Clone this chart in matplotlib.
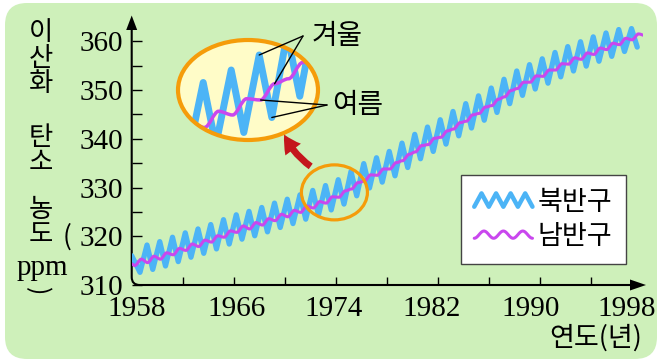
import numpy as np
import matplotlib
matplotlib.use("Agg")
import matplotlib.pyplot as plt
from matplotlib.patches import FancyBboxPatch, Ellipse, FancyArrowPatch, PathPatch, Polygon, ConnectionPatch
from matplotlib.path import Path
from matplotlib.lines import Line2D
from matplotlib.legend_handler import HandlerBase
from matplotlib.ticker import FixedLocator

plt.rcParams['font.family'] = ['Noto Sans CJK KR', 'DejaVu Sans']
SERIF = 'Liberation Serif'

# ---- 데이터 (그림에서 읽은 값, ppm) ----
# 북반구: 겨울 최고값(그해 +0.2년), 여름 최저값(그해 +0.65년)
nh_start = 316.0
nh_peak_years = list(range(1959, 1998))
nh_peaks = [318.2, 318.9, 319.8, 320.7, 321.5, 322.4, 323.4, 324.4, 325.1, 325.9,
            326.8, 327.6, 328.5, 329.4, 330.4, 331.6, 333.3, 334.9, 336.1, 337.4,
            339.1, 340.9, 342.4, 343.9, 345.6, 347.2, 348.8, 350.4, 352.2, 353.9,
            355.2, 356.4, 357.7, 358.9, 359.9, 360.9, 361.7, 362.4, 362.6]
nh_trough_years = list(range(1958, 1998))
nh_troughs = [312.6, 313.2, 313.9, 314.8, 315.7, 316.5, 317.4, 318.4, 319.4, 320.1,
              320.9, 321.8, 322.6, 323.5, 324.4, 325.4, 326.6, 328.3, 329.9, 331.1,
              332.4, 334.1, 335.9, 337.4, 338.9, 340.6, 342.2, 343.8, 345.4, 347.2,
              348.9, 350.2, 351.4, 352.7, 353.9, 354.9, 355.9, 356.9, 357.9, 358.8]
NH_PEAK_PHASE, NH_TROUGH_PHASE = 0.2, 0.65

# 남반구: 여름 최저값(그해 +0.25년), 겨울 최고값(그해 +0.75년)
sh_start = 314.3
sh_trough_years = list(range(1958, 1999))
sh_troughs = [314.0, 314.6, 315.3, 316.2, 317.1, 317.9, 318.8, 319.8, 320.8, 321.5,
              322.3, 323.2, 324.0, 324.9, 325.8, 326.8, 328.0, 329.7, 331.3, 332.5,
              333.8, 335.5, 337.3, 338.8, 340.3, 342.0, 343.6, 345.2, 346.8, 348.6,
              350.3, 351.6, 352.8, 354.1, 355.3, 356.3, 357.3, 358.3, 359.3, 360.3, 361.2]
sh_peak_years = list(range(1958, 1998))
sh_peaks = [315.3, 315.9, 316.6, 317.5, 318.4, 319.2, 320.1, 321.1, 322.1, 322.8,
            323.6, 324.5, 325.3, 326.2, 327.1, 328.1, 329.3, 331.0, 332.6, 333.8,
            335.1, 336.8, 338.6, 340.1, 341.6, 343.3, 344.9, 346.5, 348.1, 349.9,
            351.6, 352.9, 354.1, 355.4, 356.6, 357.6, 358.6, 359.6, 360.6, 361.5]
SH_TROUGH_PHASE, SH_PEAK_PHASE = 0.25, 0.75

year_labels = [1958, 1966, 1974, 1982, 1990, 1998]
year_ticks = list(range(1962, 1998, 4))
ppm_labels = [310, 320, 330, 340, 350, 360]
ppm_ticks = list(range(315, 365, 5))
series_names = ['북반구', '남반구']

BLUE = '#4cb4f6'
PURPLE = '#c947ee'
ORANGE = '#f59c0a'
GREEN = '#cef0ba'

# 시계열 만들기 (최고/최저를 번갈아)
nh_t, nh_v = [1958.0], [nh_start]
for i, y in enumerate(nh_trough_years):
    nh_t.append(y + NH_TROUGH_PHASE)
    nh_v.append(nh_troughs[i])
    if y + 1 in nh_peak_years:
        nh_t.append(y + 1 + NH_PEAK_PHASE)
        nh_v.append(nh_peaks[nh_peak_years.index(y + 1)])

sh_t, sh_v = [1958.0], [sh_start]
for i, y in enumerate(sh_trough_years):
    sh_t.append(y + SH_TROUGH_PHASE)
    sh_v.append(sh_troughs[i])
    if y in sh_peak_years:
        sh_t.append(y + SH_PEAK_PHASE)
        sh_v.append(sh_peaks[sh_peak_years.index(y)])


def smooth_path(ts, vs):
    # 극값에서 수평 접선을 갖는 베지어 곡선
    verts, codes = [(ts[0], vs[0])], [Path.MOVETO]
    for k in range(1, len(ts)):
        dx = (ts[k] - ts[k - 1]) / 3
        verts += [(ts[k - 1] + dx, vs[k - 1]), (ts[k] - dx, vs[k]), (ts[k], vs[k])]
        codes += [Path.CURVE4] * 3
    return Path(verts, codes)


# ---- 그림 ----
W, H = 663, 364
fig = plt.figure(figsize=(W / 100, H / 100), dpi=100)
fig.patch.set_facecolor('white')

bg = fig.add_axes([0, 0, 1, 1], zorder=0)
bg.set_axis_off()
bg.add_patch(FancyBboxPatch((5, 3), 652, 356, boxstyle='round,pad=0,rounding_size=22',
                            fc=GREEN, ec='none'))
# 흰 그래프 판 + 위/오른쪽 그림자
px0, py0, px1, py1 = 131, 13, 648, 290
gw, gh = px1 - px0, py1 - py0
xx, yy = np.meshgrid(np.arange(gw) + 0.5, np.arange(gh) + 0.5)
d = np.minimum(np.minimum(yy, gw - xx), (gh - yy) * 2.0)
s = np.clip(d / 11.0, 0, 1) ** 0.8
g = 0.42 + 0.58 * s
img = np.dstack([g, g, g])
panel = FancyBboxPatch((px0, py0), gw, gh, boxstyle='round,pad=0,rounding_size=10',
                       fc='none', ec='none')
bg.add_patch(panel)
im = bg.imshow(img, extent=(px0, px1, py1, py0), interpolation='bilinear', aspect='auto')
im.set_clip_path(panel)

# 축선 (둥근 모서리 + 화살표)
ax_x0, ax_y0 = 131.7, 285
axis_path = Path([(ax_x0, 28), (ax_x0, ax_y0 - 8), (ax_x0, ax_y0), (ax_x0 + 8, ax_y0), (632, ax_y0)],
                 [Path.MOVETO, Path.LINETO, Path.CURVE3, Path.CURVE3, Path.LINETO])
bg.add_patch(PathPatch(axis_path, fill=False, ec='black', lw=1.5))
bg.add_patch(Polygon([(ax_x0, 15.5), (ax_x0 - 5.5, 30), (ax_x0 + 5.5, 30)], fc='black', ec='none'))
bg.add_patch(Polygon([(646, ax_y0), (630, ax_y0 - 5.5), (630, ax_y0 + 5.5)], fc='black', ec='none'))
bg.set_xlim(0, W)
bg.set_ylim(H, 0)

# 본 그래프
ax = fig.add_axes([ax_x0 / W, (H - ax_y0) / H, (643 - ax_x0) / W, (ax_y0 - 17) / H], zorder=1)
ax.patch.set_alpha(0)
for sp in ax.spines.values():
    sp.set_visible(False)
ax.set_xlim(1958, 1958 + (643 - ax_x0) / 12.75)
ax.set_ylim(310, 310 + (ax_y0 - 17) / 4.875)

ax.plot(nh_t, nh_v, color=BLUE, lw=3.8, solid_joinstyle='round', solid_capstyle='round', zorder=2)
ax.add_patch(PathPatch(smooth_path(sh_t, sh_v), fill=False, ec=PURPLE, lw=2.2, zorder=3,
                       capstyle='round'))

label_x = [1958.4, 1966.2, 1973.8, 1981.5, 1989.3, 1996.8]
ax.xaxis.set_major_locator(FixedLocator(label_x))
ax.set_xticklabels([str(y) for y in year_labels], fontfamily=SERIF, fontsize=21)
ax.xaxis.set_minor_locator(FixedLocator(year_ticks))
ax.tick_params(axis='x', which='major', length=0, pad=8)
ax.tick_params(axis='x', which='minor', direction='in', length=6, width=1.0)
ax.yaxis.set_major_locator(FixedLocator(ppm_labels))
ax.set_yticklabels([str(v) for v in ppm_labels], fontfamily=SERIF, fontsize=21)
ax.yaxis.set_minor_locator(FixedLocator(ppm_ticks))
ax.tick_params(axis='y', which='both', direction='in', length=7, width=1.0, pad=6)

# 작은 주황 타원
ax.add_patch(Ellipse((1973.9, 329.0), 66 / 12.75, 55 / 4.875, fill=False, ec=ORANGE, lw=2.3, zorder=4))


# 범례
class WaveHandler(HandlerBase):
    def __init__(self, kind, cycles, amp):
        super().__init__()
        self.kind, self.cycles, self.amp = kind, cycles, amp

    def create_artists(self, legend, orig_handle, xdescent, ydescent, width, height, fontsize, trans):
        x0, yc = -xdescent, -ydescent + height / 2
        if self.kind == 'zigzag':
            xs = np.linspace(x0, x0 + width, 2 * self.cycles + 1)
            ys = yc + self.amp * np.where(np.arange(xs.size) % 2 == 0, -1, 1)
        else:
            u = np.linspace(0, 1, 80)
            xs = x0 + width * u
            ys = yc - self.amp * np.cos(2 * np.pi * self.cycles * u)
        line = Line2D(xs, ys, color=orig_handle.get_color(), lw=orig_handle.get_linewidth(),
                      solid_joinstyle='round', solid_capstyle='round')
        line.set_transform(trans)
        return [line]


h_nh = Line2D([], [], color=BLUE, lw=3.2)
h_sh = Line2D([], [], color=PURPLE, lw=2.2)
leg = ax.legend([h_nh, h_sh], series_names, loc='upper left',
                bbox_to_anchor=(460.7 / W, 1 - 175 / H), bbox_transform=fig.transFigure,
                borderaxespad=0, fontsize=19.5, handlelength=2.15, handletextpad=0.2,
                borderpad=0.5, labelspacing=0.28, fancybox=False, framealpha=1,
                edgecolor='#444444',
                handler_map={h_nh: WaveHandler('zigzag', 4, 4.8), h_sh: WaveHandler('wave', 3, 2.6)})
leg.get_frame().set_linewidth(1.0)

# 확대 그림 (큰 타원)
ecx, ecy, ew, eh = 248, 90, 140, 100
ax_in = fig.add_axes([(ecx - ew / 2) / W, (H - ecy - eh / 2) / H, ew / W, eh / H], zorder=2)
ax_in.set_axis_off()
in_cx, in_cy = 1973.8, 328.8
ax_in.set_xlim(in_cx - 2.5, in_cx + 2.5)
ax_in.set_ylim(in_cy - 4, in_cy + 4)
clip = Ellipse((0.5, 0.5), 1, 1, transform=ax_in.transAxes, fc='#fffcc8', ec='none', zorder=0)
ax_in.add_patch(clip)
l1, = ax_in.plot(nh_t, nh_v, color=BLUE, lw=5, solid_joinstyle='round', zorder=2)
l1.set_clip_path(clip)
p2 = PathPatch(smooth_path(sh_t, sh_v), fill=False, ec=PURPLE, lw=2.5, zorder=3)
ax_in.add_patch(p2)
p2.set_clip_path(clip)
ax_in.add_patch(Ellipse((0.5, 0.5), 1, 1, transform=ax_in.transAxes, fill=False, ec=ORANGE,
                        lw=3, zorder=4, clip_on=False))

# 주석 레이어
over = fig.add_axes([0, 0, 1, 1], zorder=5)
over.set_axis_off()
over.patch.set_alpha(0)
over.set_xlim(0, W)
over.set_ylim(H, 0)

over.add_patch(FancyArrowPatch((313, 168), (283, 132), arrowstyle='simple,head_length=0.9,head_width=1.0,tail_width=0.35',
                               mutation_scale=14, connectionstyle='arc3,rad=-0.15',
                               fc='#c4161c', ec='none'))

over.text(337, 36, '겨울', fontsize=20, ha='center', va='center')
over.text(358, 105, '여름', fontsize=20, ha='center', va='center')
targets_w = [(1974 + NH_PEAK_PHASE, nh_peaks[nh_peak_years.index(1974)]),
             (1974 + SH_PEAK_PHASE, sh_peaks[sh_peak_years.index(1974)])]
targets_s = [(1974 + SH_TROUGH_PHASE, sh_troughs[sh_trough_years.index(1974)]),
             (1974 + NH_TROUGH_PHASE, nh_troughs[nh_trough_years.index(1974)])]
for xy in targets_w:
    over.add_artist(ConnectionPatch((303, 36), xy, coordsA=over.transData, coordsB=ax_in.transData,
                                    color='black', lw=1.0))
for xy in targets_s:
    over.add_artist(ConnectionPatch((327, 105), xy, coordsA=over.transData, coordsB=ax_in.transData,
                                    color='black', lw=1.0))

# 세로축 제목 (세로쓰기, 글자 묶음별로)
ylab_blocks = [('이\n산\n화', 41, 58), ('탄\n소', 41, 150), ('농\n도', 41, 222)]
for txt, x, y in ylab_blocks:
    over.text(x, y, txt, fontsize=19, ha='center', va='center', linespacing=0.92)
over.text(67, 237, '(', fontsize=19, ha='center', va='center')
over.text(42, 268, 'ppm', fontsize=21, fontfamily=SERIF, ha='center', va='center')
over.text(37, 291, ')', fontsize=18, ha='center', va='center', rotation=-90)

over.text(596, 338, '연도(년)', fontsize=19.5, ha='center', va='center')

fig.savefig('out.png', dpi=100)
